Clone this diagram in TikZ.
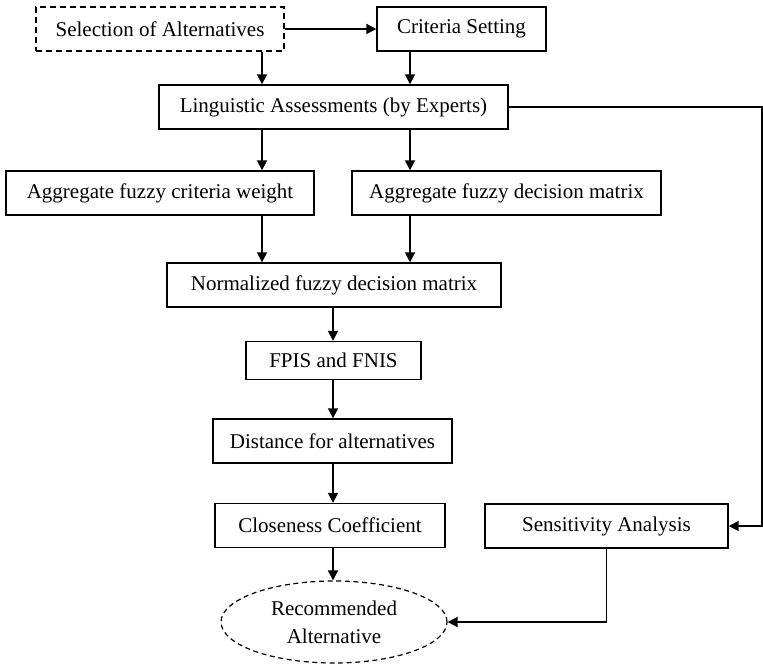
\documentclass[tikz,border=0pt]{standalone}
\usepackage{fontspec}
\setmainfont{Liberation Serif}
\usetikzlibrary{arrows.meta, shapes.geometric}

\begin{document}
\begin{tikzpicture}[
	% one unit = one pixel of the reference (y runs downwards)
	x=0.5pt, y=-0.5pt,
	font=\fontsize{10.5}{14}\selectfont,
	box/.style={
		rectangle,
		draw,
		line width=0.7pt,
		align=center,
		inner sep=0pt,
		minimum height=22pt
	},
	dashbox/.style={box, dash pattern=on 3pt off 2pt},
	goal/.style={
		ellipse,
		draw,
		line width=0.6pt,
		dash pattern=on 2.5pt off 1.8pt,
		align=center,
		inner sep=0pt,
		minimum width=113pt,
		minimum height=41pt
	},
	arrow/.style={-{Triangle[length=5pt, width=5pt]}, line width=0.9pt},
	link/.style={line width=0.9pt}
	]
	
	\useasboundingbox (0,0) rectangle (763,667);
	
	% columns used by the vertical arrows
	\coordinate (colL) at (262,0);
	\coordinate (colM) at (333,0);
	\coordinate (colR) at (410,0);
	\coordinate (edge) at (762,0);
	
	% --- 1. Top Row ---
	\node[dashbox, minimum width=124pt] (select) at (160,29) {Selection of Alternatives};
	\node[box, minimum width=84.5pt] (criteria) at (461.5,29) {Criteria Setting};
	
	\draw[arrow] (select) -- (criteria);
	
	% --- 2. Expert assessments ---
	\node[box, minimum width=174.5pt] (ling) at (333.5,107) {Linguistic Assessments (by Experts)};
	
	\draw[arrow] (select.south -| colL) -- (ling.north -| colL);
	\draw[arrow] (criteria.south -| colR) -- (ling.north -| colR);
	
	% --- 3. Aggregation ---
	\node[box, minimum width=154pt] (aggweight) at (160,193) {Aggregate fuzzy criteria weight};
	\node[box, minimum width=154.5pt] (aggmatrix) at (506.5,193) {Aggregate fuzzy decision matrix};
	
	\draw[arrow] (ling.south -| colL) -- (aggweight.north -| colL);
	\draw[arrow] (ling.south -| colR) -- (aggmatrix.north -| colR);
	
	% --- 4. Main column ---
	\node[box, minimum width=167pt] (norm) at (334,285) {Normalized fuzzy decision matrix};
	\node[box, minimum width=87.5pt, minimum height=19pt] (ideal) at (333.5,360.5) {FPIS and FNIS};
	\node[box, minimum width=119.5pt] (dist) at (332.5,441) {Distance for alternatives};
	\node[box, minimum width=115pt] (close) at (330,525.5) {Closeness Coefficient};
	\node[goal] (result) at (334,622) {Recommended\\Alternative};
	
	\draw[arrow] (aggweight.south -| colL) -- (norm.north -| colL);
	\draw[arrow] (aggmatrix.south -| colR) -- (norm.north -| colR);
	\draw[arrow] (norm.south -| colM) -- (ideal.north -| colM);
	\draw[arrow] (ideal.south -| colM) -- (dist.north -| colM);
	\draw[arrow] (dist.south -| colM) -- (close.north -| colM);
	\draw[arrow] (close.south -| colM) -- (result.north -| colM);
	
	% --- 5. Sensitivity loop ---
	\node[box, minimum width=121.5pt] (sens) at (606.5,526) {Sensitivity Analysis};
	
	\draw[arrow] (ling.east) -- (ling.east -| edge) -- (sens.east -| edge) -- (sens.east);
	\draw[arrow] (sens.south) |- (result.east);
	
\end{tikzpicture}
\end{document}
